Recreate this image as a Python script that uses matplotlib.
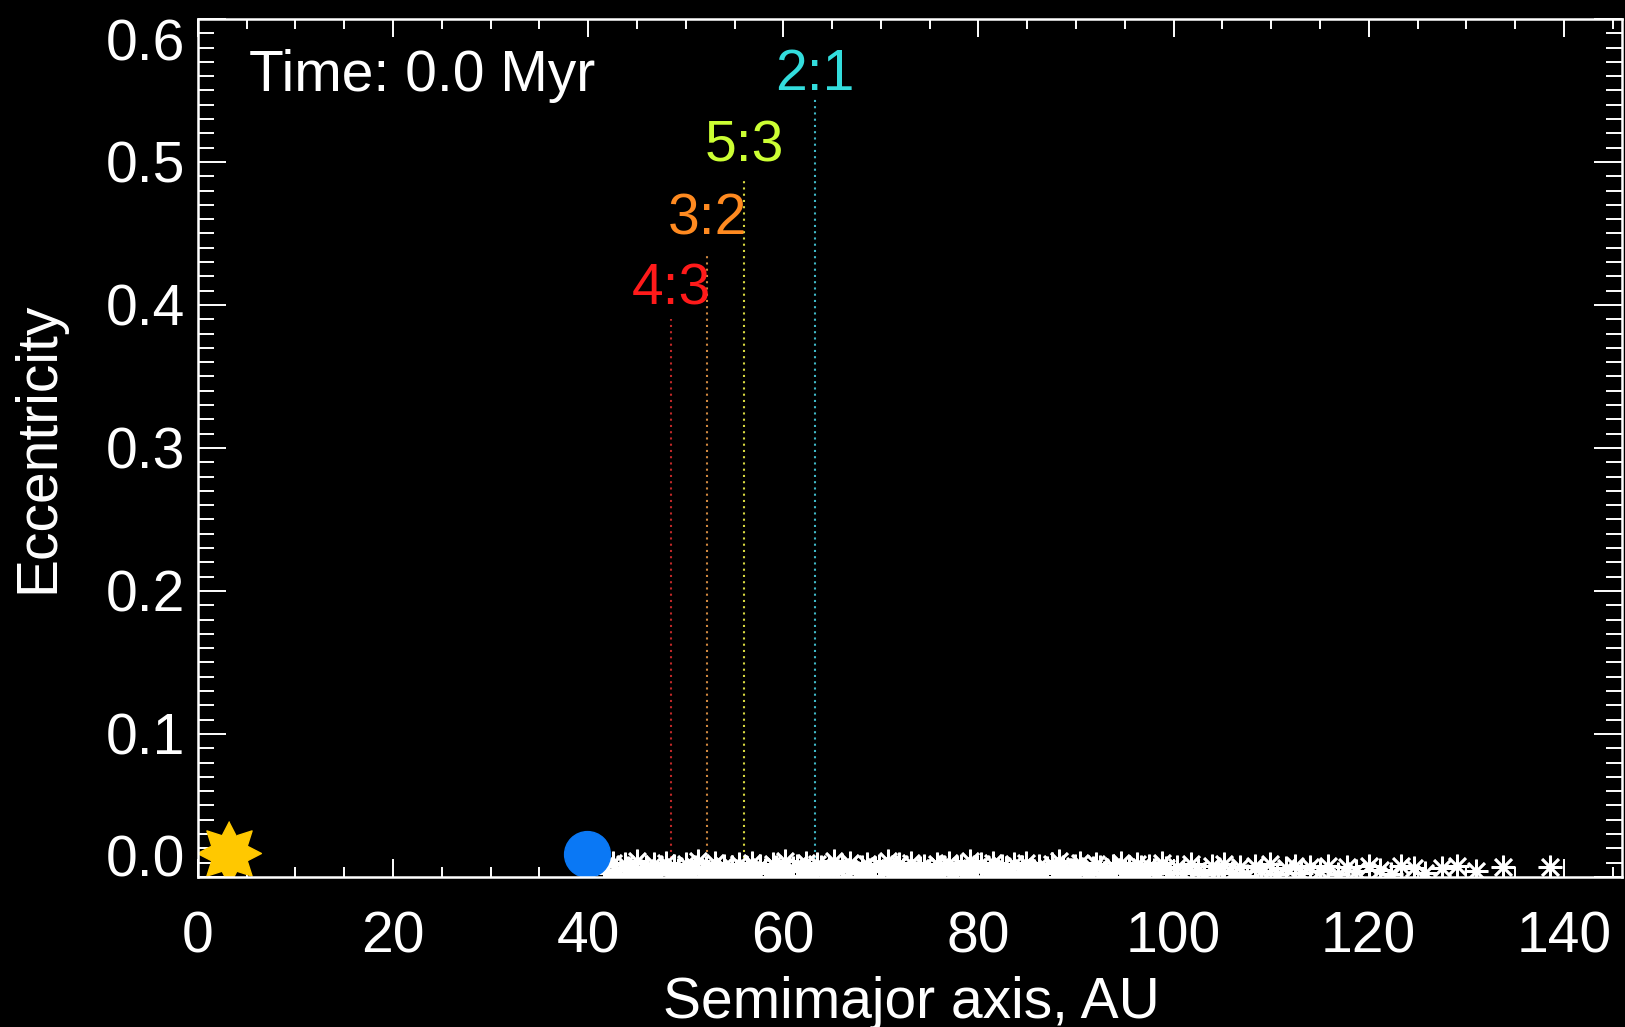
import numpy as np
import matplotlib
matplotlib.use("Agg")
import matplotlib.pyplot as plt
from matplotlib.ticker import MultipleLocator

plt.rcParams['font.family'] = ['Liberation Sans', 'DejaVu Sans']

# planetesimal belt, (semimajor axis AU, eccentricity)
belt = [
    (41.6, .008), (42.0, .003), (42.5, .010), (42.9, .005), (43.3, .001), (43.8, .009), (44.1, .006), (44.6, .002), (45.0, .011), (45.4, .004),
    (45.9, .007), (46.2, .000), (46.7, .009), (47.1, .003), (47.5, .006), (48.0, .010), (48.3, .002), (48.8, .008), (49.2, .005), (49.7, .001),
    (50.0, .009), (50.5, .004), (50.9, .007), (51.3, .011), (51.8, .003), (52.1, .006), (52.6, .000), (53.0, .010), (53.4, .005), (53.9, .008),
    (54.2, .002), (54.7, .007), (55.1, .004), (55.5, .009), (56.0, .001), (56.3, .006), (56.8, .010), (57.2, .003), (57.6, .008), (58.1, .005),
    (58.4, .000), (58.9, .009), (59.3, .007), (59.7, .002), (60.2, .011), (60.5, .004), (61.0, .006), (61.4, .008), (61.8, .001), (62.3, .010),
    (62.6, .005), (63.1, .003), (63.5, .009), (63.9, .007), (64.4, .002), (64.7, .006), (65.2, .011), (65.6, .004), (66.0, .008), (66.5, .000),
    (66.8, .010), (67.3, .005), (67.7, .003), (68.1, .007), (68.6, .009), (68.9, .001), (69.4, .006), (69.8, .008), (70.2, .004), (70.7, .011),
    (71.0, .002), (71.5, .007), (71.9, .009), (72.3, .005), (72.8, .000), (73.1, .010), (73.6, .003), (74.0, .006), (74.4, .008), (74.9, .004),
    (75.2, .001), (75.7, .009), (76.1, .007), (76.5, .005), (77.0, .010), (77.3, .002), (77.8, .006), (78.2, .008), (78.6, .003), (79.1, .011),
    (79.4, .000), (79.9, .007), (80.3, .009), (80.7, .004), (81.2, .005), (81.5, .010), (82.0, .001), (82.4, .008), (82.8, .006), (83.3, .003),
    (83.6, .009), (84.1, .002), (84.5, .007), (84.9, .010), (85.4, .005), (85.7, .004), (86.2, .008), (86.6, .000), (87.0, .006), (87.5, .009),
    (87.8, .003), (88.3, .011), (88.7, .007), (89.1, .001), (89.6, .005), (89.9, .008), (90.4, .010), (90.8, .004), (91.2, .002), (91.7, .006),
    (92.0, .009), (92.5, .007), (92.9, .003), (93.3, .000), (93.8, .008), (94.1, .005), (94.6, .010), (95.0, .004), (95.4, .006), (95.9, .001),
    (96.2, .009), (96.7, .007), (97.1, .002), (97.5, .008), (98.0, .005), (98.3, .003), (98.8, .010), (99.2, .006), (99.6, .000),
    (100.3, .007), (101.0, .003), (101.8, .009), (102.5, .005), (103.1, .002), (103.9, .008), (104.6, .004), (105.2, .009), (106.0, .003), (106.8, .007),
    (107.5, .001), (108.3, .008), (109.0, .004), (109.9, .009), (110.6, .002), (111.5, .006), (112.4, .008), (113.1, .003), (114.0, .007), (115.0, .004),
    (115.8, .008), (116.9, .002), (117.8, .007), (118.7, .004), (120.0, .008), (121.2, .005), (122.3, .002), (123.3, .008), (124.6, .006), (125.8, .003),
    (127.5, .006), (129.0, .008), (131.0, .004), (133.8, .007), (138.6, .007),
]

res_names = ["4:3", "3:2", "5:3", "2:1"]
res_a = [48.5, 52.2, 56.0, 63.2]
res_top = [0.39, 0.437, 0.487, 0.545]
res_label_e = [0.40, 0.449, 0.50, 0.55]
res_colors = ["#ff1a1a", "#ff8a20", "#ccff33", "#33dddd"]
res_line_colors = ["#c02828", "#d08840", "#d8d840", "#40b8c8"]

sun_a, sun_e = 3.2, 0.017
planet_a, planet_e = 39.9, 0.016
time_myr = 0.0

belt_a = [p[0] for p in belt]
belt_e = [p[1] for p in belt]

fig = plt.figure(figsize=(16.25, 10.27), dpi=100, facecolor='black')
ax = fig.add_axes([0.1218, 0.1461, 0.8766, 0.8354])
ax.set_facecolor('black')

# resonance lines + labels
for name, a, top, le, c, lc in zip(res_names, res_a, res_top, res_label_e, res_colors, res_line_colors):
    ax.plot([a, a], [0, top], color=lc, lw=1.5, ls=(0, (1, 2)))
    ax.text(a, le, name, color=c, fontsize=41, ha='center', va='baseline')

# particles (IDL style asterisks)
ax.plot(belt_a, belt_e, ls='none', marker=(8, 2, 0), ms=17, mew=1.9, color='white')

# sun: 8 pointed star
ang = np.arange(16) * np.pi / 8 + np.pi / 2
rad = np.where(np.arange(16) % 2 == 0, 1.0, 0.6)
star = list(zip(rad * np.cos(ang), rad * np.sin(ang)))
ax.plot([sun_a], [sun_e], ls='none', marker=star, ms=46, color='#ffc800', mec='#ffc800')

# planet
ax.plot([planet_a], [planet_e], ls='none', marker='o', ms=33, color='#0a78f5', mec='#0a78f5')

ax.set_xlim(0, 146)
ax.set_ylim(0, 0.6)
ax.set_xticks(np.arange(0, 141, 20))
ax.set_yticks(np.arange(0, 0.61, 0.1))
ax.set_yticklabels(["%.1f" % v for v in np.arange(0, 0.61, 0.1)])
ax.xaxis.set_minor_locator(MultipleLocator(5))
ax.yaxis.set_minor_locator(MultipleLocator(0.01))

for sp in ax.spines.values():
    sp.set_color('white')
    sp.set_linewidth(1.8)

ax.tick_params(which='both', direction='in', colors='white', width=1.4,
               top=True, right=True, labelsize=41)
ax.tick_params(axis='x', which='major', length=13, pad=24)
ax.tick_params(axis='x', which='minor', length=7)
ax.tick_params(axis='y', which='major', length=20, pad=9)
ax.tick_params(axis='y', which='minor', length=11.5)

ylabs = ax.get_yticklabels()
ylabs[0].set_va('baseline')
ylabs[-1].set_va('top')

ax.text(0.0358, 0.916, "Time: %.1f Myr" % time_myr, transform=ax.transAxes,
        color='white', fontsize=41, va='baseline')

fig.text(911 / 1625, 1 - 1018 / 1027, "Semimajor axis, AU", color='white',
         fontsize=41, ha='center', va='baseline')
fig.text(38 / 1625, 1 - 447 / 1027, "Eccentricity", color='white',
         fontsize=41, ha='center', va='center', rotation=90)

fig.savefig("out.png", dpi=100, facecolor='black')
